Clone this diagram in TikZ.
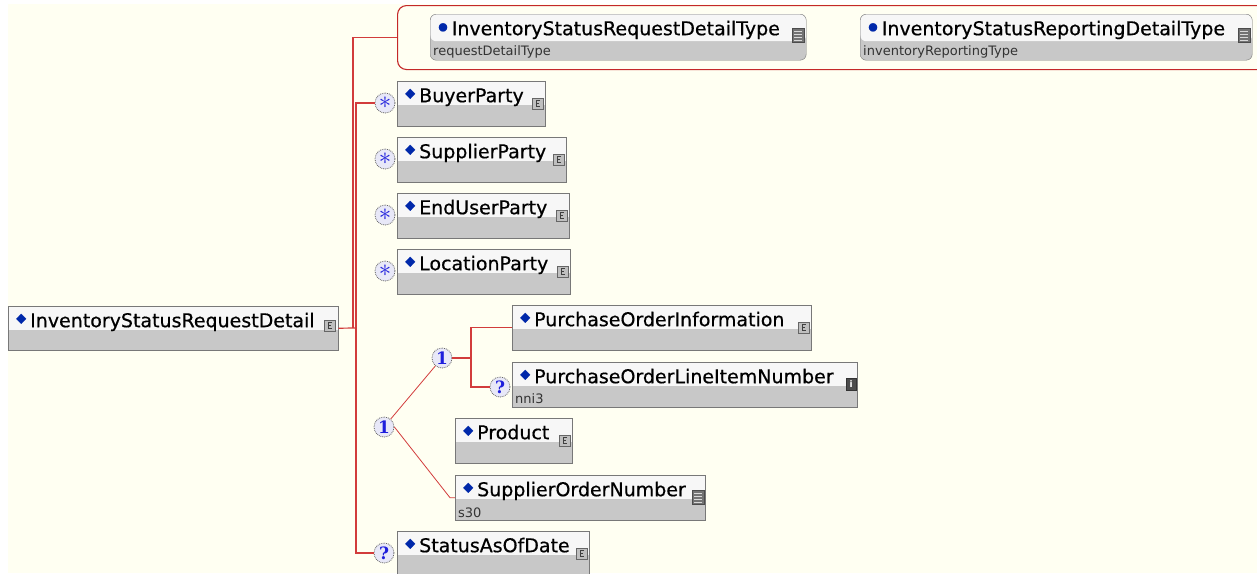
\documentclass[tikz,border=0pt]{standalone}
\usepackage{fontspec}
\setmainfont{DejaVu Sans}
\newfontfamily\namefont{DejaVu Sans}[FakeBold=0.6]
\newfontfamily\occfont{DejaVu Serif}
\definecolor{bgcream}{RGB}{255,255,242}
\definecolor{linkred}{RGB}{210,60,60}
\definecolor{seqred}{RGB}{196,40,40}
\definecolor{boxline}{RGB}{120,120,120}
\definecolor{boxtop}{RGB}{247,247,247}
\definecolor{boxlow}{RGB}{200,200,200}
\definecolor{markblue}{RGB}{0,40,170}
\definecolor{occblue}{RGB}{30,30,220}
\definecolor{occfill}{RGB}{232,232,248}
\newcommand\elemmark{\hspace*{4pt}{\color{markblue}\fontsize{13}{13}\selectfont\raisebox{5pt}{◆}}\hspace{4pt}}
\newcommand\typemark{\hspace*{4pt}{\color{markblue}\fontsize{11}{11}\selectfont\raisebox{5pt}{●}}\hspace{4pt}}
\newcommand\manymark{{\fontsize{26}{26}\selectfont$\ast$}}
\begin{document}
\begin{tikzpicture}[x=1pt,y=-1pt,
  elem/.style={draw=boxline, fill=boxlow, anchor=north west, inner xsep=4pt, inner ysep=0pt, align=left,
    text height=21pt, text depth=24pt, font=\namefont\fontsize{19}{22}\selectfont,
    path picture={\fill[boxtop] (path picture bounding box.north west) rectangle ([yshift=-24pt]path picture bounding box.north east);}},
  typ/.style={draw=boxline, fill=boxlow, rounded corners=6pt, anchor=north west, inner xsep=4pt, inner ysep=0pt, align=left,
    text height=21pt, text depth=25pt, font=\namefont\fontsize{19}{22}\selectfont,
    path picture={\fill[boxtop] (path picture bounding box.north west) rectangle ([yshift=-27pt]path picture bounding box.north east);}},
  sub/.style={anchor=base west, inner sep=0pt, font=\fontsize{13}{15}\selectfont, text=black!80},
  cmicon/.style={draw=black!60, fill=gray!50, anchor=north east, minimum width=11pt, minimum height=11pt, inner sep=0pt,
    path picture={\draw[black!75, line width=0.6pt] ([xshift=7.5pt,yshift=-2.5pt]path picture bounding box.north west) -- ++(-3.5pt,0) -- ++(0,-6pt) -- ++(3.5pt,0) ([xshift=4pt,yshift=-5.5pt]path picture bounding box.north west) -- ++(2.5pt,0);}},
  reficon/.style={draw=black!70, fill=black!55, anchor=north east, minimum width=12pt, minimum height=14pt, inner sep=0pt,
    path picture={\foreach \k in {3.5,6.5,9.5,12.5} \draw[gray!30, line width=0.8pt] ([xshift=2pt,yshift=-\k pt]path picture bounding box.north west) -- ++(8pt,0);}},
  infoicon/.style={draw=black!80, fill=black!70, anchor=north east, minimum width=10pt, minimum height=12pt, inner sep=0pt, text=white, font=\fontsize{9}{9}\selectfont\bfseries},
  occ/.style={circle, draw=gray!80!black, densely dotted, thick, fill=occfill, inner sep=0pt, minimum size=20pt, text=occblue, font=\occfont\fontsize{17}{17}\selectfont\bfseries},
  link/.style={draw=linkred, line width=1.2pt}]
\useasboundingbox (0,0) rectangle (1257,573);
\fill[white] (0,0) rectangle (1257,573);
\fill[bgcream] (8,4) rectangle (1257,573);

\node [draw=seqred, line width=1.1pt, rounded corners=9pt, anchor=north west, minimum width=872pt, minimum height=64pt] (seq) at (397,5) {};
\node [typ, text width=368pt] (rdt) at (430,14) {\typemark InventoryStatusRequestDetailType};
\node [sub] (rdt-s) at ([xshift=3pt,yshift=5pt]rdt.south west) {requestDetailType};
\node [reficon] (rdt-i) at ([xshift=-2pt,yshift=-14pt]rdt.north east) {};
\node [typ, text width=384pt] (irt) at (860,14) {\typemark InventoryStatusReportingDetailType};
\node [sub] (irt-s) at ([xshift=3pt,yshift=5pt]irt.south west) {inventoryReportingType};
\node [reficon] (irt-i) at ([xshift=-2pt,yshift=-14pt]irt.north east) {};

\node [elem, text width=322pt, text depth=23pt] (main) at (8,306) {\elemmark InventoryStatusRequestDetail};
\node [cmicon] (main-i) at ([xshift=-3pt,yshift=-14pt]main.north east) {};

\node [elem, text width=140pt] (buyer) at (397,81) {\elemmark BuyerParty};
\node [cmicon] (buyer-i) at ([xshift=-2pt,yshift=-17pt]buyer.north east) {};
\node [occ] (buyer-o) at (385,103) {\manymark};
\node [elem, text width=161pt] (supplier) at (397,137) {\elemmark SupplierParty};
\node [cmicon] (supplier-i) at ([xshift=-2pt,yshift=-17pt]supplier.north east) {};
\node [occ] (supplier-o) at (385,159) {\manymark};
\node [elem, text width=164pt] (enduser) at (397,193) {\elemmark EndUserParty};
\node [cmicon] (enduser-i) at ([xshift=-2pt,yshift=-17pt]enduser.north east) {};
\node [occ] (enduser-o) at (385,215) {\manymark};
\node [elem, text width=165pt] (location) at (397,249) {\elemmark LocationParty};
\node [cmicon] (location-i) at ([xshift=-2pt,yshift=-17pt]location.north east) {};
\node [occ] (location-o) at (385,271) {\manymark};

\node [occ] (ch1) at (384,427) {1};
\node [occ] (ch2) at (442,358) {1};
\node [elem, text width=291pt] (poinfo) at (512,305) {\elemmark PurchaseOrderInformation};
\node [cmicon] (poinfo-i) at ([xshift=-2pt,yshift=-17pt]poinfo.north east) {};
\node [elem, text width=337pt, text depth=24pt] (poline) at (512,362) {\elemmark PurchaseOrderLineItemNumber};
\node [sub] (poline-s) at ([xshift=3pt,yshift=4pt]poline.south west) {nni3};
\node [infoicon] (poline-i) at ([xshift=-1pt,yshift=-16pt]poline.north east) {i};
\node [occ] (poline-o) at (500,387) {?};
\node [elem, text width=109pt] (product) at (455,418) {\elemmark Product};
\node [cmicon] (product-i) at ([xshift=-2pt,yshift=-17pt]product.north east) {};
\node [elem, text width=242pt] (sonum) at (455,475) {\elemmark SupplierOrderNumber};
\node [sub] (sonum-s) at ([xshift=3pt,yshift=3pt]sonum.south west) {s30};
\node [reficon] (sonum-i) at ([xshift=-1pt,yshift=-15pt]sonum.north east) {};

\node [elem, text width=184pt] (status) at (397,531) {\elemmark StatusAsOfDate};
\node [cmicon] (status-i) at ([xshift=-2pt,yshift=-17pt]status.north east) {};
\node [occ] (status-o) at (384,553) {?};

\coordinate (trunkA) at (353,328);
\coordinate (trunkB) at (356,328);
\coordinate (junc) at (471,358);
\draw [link] (main.east) -- (trunkB);
\draw [link] (trunkA) |- (seq.west);
\draw [link] (buyer-o.west) -| (trunkB) |- (status-o.west);
\draw [link, line width=0.8pt] (ch1) -- (ch2);
\draw [link, line width=0.8pt] (ch1.east) -- ([xshift=-5pt]sonum.west) -- (sonum.west);
\draw [link] (ch2.east) -- (junc);
\draw [link] (poinfo.west) -| (junc) |- (poline-o.west);
\end{tikzpicture}
\end{document}
